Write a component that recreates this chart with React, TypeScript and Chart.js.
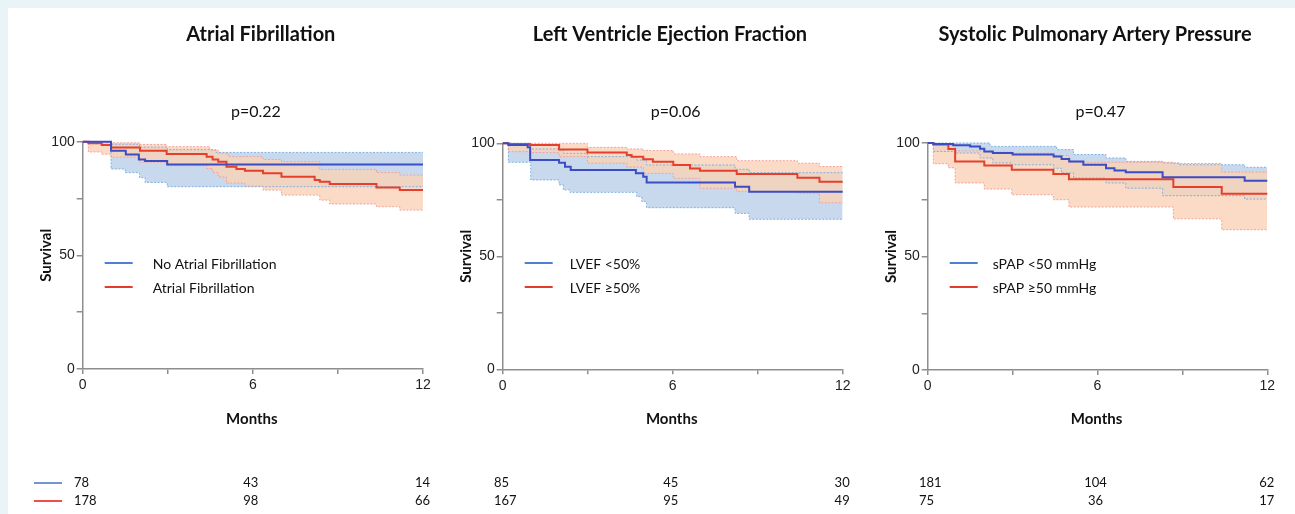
import React, { useEffect, useRef } from "react";
import { Chart, registerables } from "chart.js";

Chart.register(...registerables);

type Pt = [number, number];

// ---------- Panel 1: Atrial Fibrillation (months, survival %) ----------
const AF_NO_LINE: Pt[] = [[0, 100], [1.0, 96.0], [1.52, 94.4], [1.98, 92.2], [2.2, 91.5], [2.98, 90.0], [12, 90.0]];
const AF_NO_UPPER: Pt[] = [[0, 100], [1.0, 98.9], [2.0, 97.6], [2.98, 96.5], [4.7, 95.3], [12, 95.3]];
const AF_NO_LOWER: Pt[] = [[0, 100], [1.0, 88.0], [1.5, 86.4], [2.0, 84.2], [2.2, 82.1], [2.98, 80.2], [12, 80.2]];
const AF_YES_LINE: Pt[] = [[0, 100], [0.2, 99.3], [0.67, 98.5], [1.0, 97.4], [2.02, 96.0], [2.96, 94.6], [4.37, 93.4], [4.58, 92.2], [4.78, 91.2], [5.07, 89.0], [5.42, 88.0], [5.72, 87.2], [6.36, 86.1], [7.01, 84.6], [8.18, 83.1], [8.36, 82.4], [8.71, 81.4], [10.36, 79.9], [11.18, 78.7], [12, 78.7]];
const AF_YES_UPPER: Pt[] = [[0, 100], [0.67, 99.5], [2.02, 98.8], [2.96, 97.8], [4.48, 96.3], [4.78, 94.9], [5.13, 93.4], [6.36, 92.2], [7.01, 91.2], [8.36, 87.8], [10.36, 86.4], [11.18, 85.3], [12, 85.3]];
const AF_YES_LOWER: Pt[] = [[0, 100], [0.2, 95.5], [0.67, 94.5], [1.0, 93.2], [2.02, 91.0], [2.96, 89.5], [4.37, 88.2], [4.58, 86.5], [4.78, 84.5], [5.07, 81.8], [5.72, 80.5], [6.36, 78.7], [7.01, 76.5], [8.36, 74.3], [8.71, 72.6], [10.36, 71.4], [11.18, 69.9], [12, 69.9]];
const AF_RISK_NO = [78, 43, 14];
const AF_RISK_YES = [178, 98, 66];

// ---------- Panel 2: LVEF ----------
const LV_LOW_LINE: Pt[] = [[0, 100], [0.2, 99.2], [0.88, 98.3], [0.97, 92.6], [1.99, 91.4], [2.2, 89.6], [2.4, 88.2], [4.7, 86.7], [4.96, 85.2], [5.08, 82.7], [8.2, 80.8], [8.7, 78.6], [12, 78.6]];
const LV_LOW_UPPER: Pt[] = [[0, 100], [0.2, 100], [0.97, 97.5], [2.0, 97.0], [2.14, 95.6], [2.99, 94.1], [4.73, 92.6], [5.08, 90.4], [8.2, 88.5], [8.7, 87.0], [12, 87.0]];
const LV_LOW_LOWER: Pt[] = [[0, 100], [0.2, 91.6], [0.99, 83.8], [1.99, 81.6], [2.14, 79.4], [2.38, 78.3], [4.73, 76.4], [4.91, 74.2], [5.08, 71.5], [8.2, 69.0], [8.7, 66.4], [12, 66.4]];
const LV_HIGH_LINE: Pt[] = [[0, 100], [0.2, 99.7], [0.96, 99.3], [1.99, 97.3], [2.99, 95.9], [4.38, 94.8], [4.55, 94.1], [4.96, 92.9], [5.3, 91.8], [6.02, 90.4], [6.61, 88.9], [6.96, 87.9], [8.26, 86.4], [10.4, 84.8], [11.18, 83.0], [12, 83.0]];
const LV_HIGH_UPPER: Pt[] = [[0, 100], [2.99, 98.2], [4.38, 97.5], [4.96, 96.8], [6.02, 95.3], [6.96, 94.1], [8.26, 92.3], [10.4, 91.2], [11.18, 89.7], [12, 89.7]];
const LV_HIGH_LOWER: Pt[] = [[0, 100], [0.2, 96.3], [0.96, 95.9], [1.99, 94.1], [2.99, 91.2], [4.38, 89.5], [4.96, 86.7], [6.02, 84.5], [6.96, 80.1], [8.26, 78.6], [10.4, 77.9], [11.18, 73.7], [12, 73.7]];
const LV_RISK_LOW = [85, 45, 30];
const LV_RISK_HIGH = [167, 95, 49];

// ---------- Panel 3: sPAP ----------
const SP_LOW_LINE: Pt[] = [[0, 100], [0.2, 99.6], [0.9, 99.0], [1.5, 98.5], [1.85, 97.5], [2.0, 96.3], [2.3, 95.6], [3.0, 94.9], [4.45, 94.1], [4.73, 92.9], [5.0, 91.9], [5.5, 90.4], [6.3, 88.9], [6.6, 87.9], [7.0, 87.1], [8.3, 84.9], [11.2, 83.4], [12, 83.4]];
const SP_LOW_UPPER: Pt[] = [[0, 100], [2.2, 98.5], [4.56, 97.1], [5.15, 94.9], [6.3, 93.4], [7.0, 91.9], [8.3, 91.2], [8.9, 90.4], [11.2, 89.3], [12, 89.3]];
const SP_LOW_LOWER: Pt[] = [[0, 100], [0.2, 96.3], [0.97, 95.6], [1.85, 93.4], [2.3, 91.2], [2.97, 90.4], [4.45, 88.9], [4.73, 86.8], [5.15, 84.6], [6.3, 82.4], [7.0, 80.1], [8.3, 76.8], [11.2, 75.3], [12, 75.3]];
const SP_HIGH_LINE: Pt[] = [[0, 100], [0.2, 99.3], [0.73, 97.4], [0.97, 91.9], [2.0, 90.1], [2.97, 88.2], [4.44, 86.3], [4.99, 84.0], [8.68, 80.6], [10.39, 77.6], [12, 77.6]];
const SP_HIGH_UPPER: Pt[] = [[0, 100], [0.2, 99.0], [0.97, 96.5], [2.0, 96.0], [2.97, 95.5], [4.44, 94.5], [4.99, 91.5], [8.68, 91.0], [10.39, 87.2], [12, 87.2]];
const SP_HIGH_LOWER: Pt[] = [[0, 100], [0.2, 90.9], [0.73, 89.1], [0.97, 82.4], [2.0, 79.7], [2.97, 77.2], [4.44, 75.0], [4.99, 71.8], [8.68, 66.6], [10.39, 61.8], [12, 61.8]];
const SP_RISK_LOW = [181, 104, 62];
const SP_RISK_HIGH = [75, 36, 17];

// ---------- Texts / ticks ----------
const TITLES = ["Atrial Fibrillation", "Left Ventricle Ejection Fraction", "Systolic Pulmonary Artery Pressure"];
const P_VALUES = ["p=0.22", "p=0.06", "p=0.47"];
const LEGEND_BLUE = ["No Atrial Fibrillation", "LVEF <50%", "sPAP <50 mmHg"];
const LEGEND_RED = ["Atrial Fibrillation", "LVEF \u226550%", "sPAP \u226550 mmHg"];
const X_LABELLED = [0, 6, 12];
const Y_LABELLED = [0, 50, 100];
const X_TITLE = "Months";
const Y_TITLE = "Survival";

const PANELS = [
  { blue: [AF_NO_LINE, AF_NO_UPPER, AF_NO_LOWER], red: [AF_YES_LINE, AF_YES_UPPER, AF_YES_LOWER], risk: [AF_RISK_NO, AF_RISK_YES] },
  { blue: [LV_LOW_LINE, LV_LOW_UPPER, LV_LOW_LOWER], red: [LV_HIGH_LINE, LV_HIGH_UPPER, LV_HIGH_LOWER], risk: [LV_RISK_LOW, LV_RISK_HIGH] },
  { blue: [SP_LOW_LINE, SP_LOW_UPPER, SP_LOW_LOWER], red: [SP_HIGH_LINE, SP_HIGH_UPPER, SP_HIGH_LOWER], risk: [SP_RISK_LOW, SP_RISK_HIGH] },
];

// ---------- Layout (page pixels) ----------
const TOP = 8;
const CANVAS_H = 506;
const X_AXIS_H = 40;
const LAYOUT = [
  { left: 8, width: 432, l: 82.7, r: 423, t: 141.7, b: 369, titleDx: 8, legendDx: 70 },
  { left: 440, width: 425, l: 502.7, r: 842.7, t: 143.3, b: 369.3, titleDx: -2.7, legendDx: 67 },
  { left: 865, width: 430, l: 927.7, r: 1267.3, t: 143, b: 370, titleDx: -2.5, legendDx: 65 },
];

const BLUE_LINE = "#3C4CC2";
const RED_LINE = "#E6402C";
const BLUE_CI = "#7FB0E0";
const RED_CI = "#F2A29A";
const BLUE_FILL = "rgba(120,160,210,0.40)";
const RED_FILL = "rgba(250,210,183,0.80)";
const AXIS = "#8E8E8E";
const LEGEND_BLUE_COLOR = "#4E82D0";
const LEGEND_RED_COLOR = "#E23C2C";
const RISK_BLUE = "#4472C4";
const RISK_RED = "#F01010";
const TEXT_FONT = "Lato, 'Open Sans', sans-serif";
const TICK_FONT = "'Liberation Sans', Arial, sans-serif";

const toXY = (pts: Pt[]) => pts.map(([x, y]) => ({ x, y }));

function Panel({ idx }: { idx: number }) {
  const ref = useRef<HTMLCanvasElement>(null);
  const lay = LAYOUT[idx];

  useEffect(() => {
    const d = PANELS[idx];
    const textPlugin = {
      id: "panelText" + idx,
      afterDraw(chart: any) {
        const { ctx, chartArea: a } = chart;
        const cx = (a.left + a.right) / 2;
        ctx.save();
        ctx.fillStyle = "#111";
        ctx.font = `bold 20px ${TEXT_FONT}`;
        ctx.textAlign = "center";
        ctx.textBaseline = "alphabetic";
        ctx.fillText(TITLES[idx], cx + lay.titleDx, 41 - TOP);
        ctx.font = `16px ${TEXT_FONT}`;
        ctx.fillText(P_VALUES[idx], cx + 3, 117 - TOP);
        ctx.font = `bold 15px ${TEXT_FONT}`;
        ctx.textBaseline = "middle";
        ctx.fillText(X_TITLE, cx - 1, 419 - TOP);
        ctx.save();
        ctx.translate(a.left - 37, (a.top + a.bottom) / 2);
        ctx.rotate(-Math.PI / 2);
        ctx.fillText(Y_TITLE, 0, 0);
        ctx.restore();
        const rows = [
          { y: 263 - TOP, c: LEGEND_BLUE_COLOR, t: LEGEND_BLUE[idx] },
          { y: 287 - TOP, c: LEGEND_RED_COLOR, t: LEGEND_RED[idx] },
        ];
        ctx.font = `14px ${TEXT_FONT}`;
        ctx.textAlign = "left";
        rows.forEach((r) => {
          ctx.strokeStyle = r.c;
          ctx.lineWidth = 2;
          ctx.beginPath();
          ctx.moveTo(a.left + 22, r.y);
          ctx.lineTo(a.left + 50, r.y);
          ctx.stroke();
          ctx.fillStyle = "#111";
          ctx.fillText(r.t, a.left + lay.legendDx, r.y + 1);
        });
        ctx.font = `13px ${TEXT_FONT}`;
        const riskY = [483 - TOP, 501 - TOP];
        d.risk.forEach((vals, ri) => {
          const y = riskY[ri];
          ctx.textAlign = "left";
          ctx.fillText(String(vals[0]), a.left - 8.7, y);
          ctx.textAlign = "center";
          ctx.fillText(String(vals[1]), cx - 2, y);
          ctx.textAlign = "right";
          ctx.fillText(String(vals[2]), a.right + 7, y);
        });
        if (idx === 0) {
          [RISK_BLUE, RISK_RED].forEach((c, ri) => {
            ctx.strokeStyle = c;
            ctx.lineWidth = 1.5;
            ctx.beginPath();
            ctx.moveTo(34 - lay.left, riskY[ri]);
            ctx.lineTo(62 - lay.left, riskY[ri]);
            ctx.stroke();
          });
        }
        ctx.restore();
      },
    };

    const line = (pts: Pt[], color: string) => ({
      data: toXY(pts), borderColor: color, borderWidth: 2, stepped: "before" as const,
      pointRadius: 0, fill: false, clip: 4,
    });
    const ci = (pts: Pt[], color: string, fill: any, bg?: string) => ({
      data: toXY(pts), borderColor: color, borderWidth: 1, borderDash: [2, 1.5], stepped: "before" as const,
      pointRadius: 0, fill, backgroundColor: bg || "transparent", clip: 4,
    });

    const chart = new Chart(ref.current!, {
      type: "line",
      data: {
        datasets: [
          line(d.blue[0], BLUE_LINE),
          line(d.red[0], RED_LINE),
          ci(d.red[1], RED_CI, "+1", RED_FILL),
          ci(d.red[2], RED_CI, false),
          ci(d.blue[1], BLUE_CI, "+1", BLUE_FILL),
          ci(d.blue[2], BLUE_CI, false),
        ] as any,
      },
      options: {
        animation: false,
        responsive: false,
        events: [],
        layout: {
          padding: {
            left: 0,
            right: lay.left + lay.width - lay.r,
            top: lay.t - TOP,
            bottom: CANVAS_H - (lay.b - TOP) - X_AXIS_H,
          },
        },
        plugins: {
          legend: { display: false }, tooltip: { enabled: false }, title: { display: false },
          filler: { drawTime: "beforeDatasetsDraw" },
        },
        scales: {
          x: {
            type: "linear", min: 0, max: 12,
            ticks: {
              stepSize: 3, autoSkip: false, maxRotation: 0, padding: 3, color: "#222",
              font: { family: TICK_FONT, size: 14 },
              callback: (v: any) => (X_LABELLED.includes(Number(v)) ? String(v) : ""),
            },
            grid: { drawOnChartArea: false, drawTicks: true, tickLength: 5, color: AXIS, lineWidth: 1.5 },
            border: { display: true, color: AXIS, width: 1.5 },
            afterFit: (s: any) => { s.height = X_AXIS_H; },
          },
          y: {
            type: "linear", min: 0, max: 100,
            ticks: {
              stepSize: 25, autoSkip: false, padding: 2, color: "#222",
              font: { family: TICK_FONT, size: 14 },
              callback: (v: any) => (Y_LABELLED.includes(Number(v)) ? String(v) : ""),
            },
            grid: { drawOnChartArea: false, drawTicks: true, tickLength: 6, color: AXIS, lineWidth: 1.5 },
            border: { display: true, color: AXIS, width: 1.5 },
            afterFit: (s: any) => { s.width = lay.l - lay.left; },
          },
        },
      } as any,
      plugins: [textPlugin as any],
    });
    return () => chart.destroy();
  }, [idx]);

  return (
    <canvas
      ref={ref}
      width={lay.width}
      height={CANVAS_H}
      style={{ position: "absolute", left: lay.left, top: TOP, width: lay.width, height: CANVAS_H }}
    />
  );
}

export default function App() {
  return (
    <div style={{ position: "fixed", left: 0, top: 0, width: 1295, height: 514, background: "#E9F4F8", overflow: "hidden" }}>
      <div style={{ position: "absolute", left: 8, top: TOP, width: 1287, height: 506, background: "#FFFFFF" }} />
      <Panel idx={0} />
      <Panel idx={1} />
      <Panel idx={2} />
    </div>
  );
}
